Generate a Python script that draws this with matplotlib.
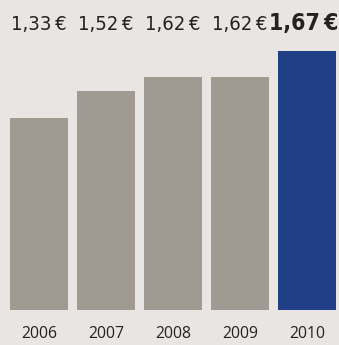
import matplotlib
matplotlib.use("Agg")
import matplotlib.pyplot as plt

# values printed above the bars (EUR)
years = ["2006", "2007", "2008", "2009", "2010"]
prices = [1.33, 1.52, 1.62, 1.62, 1.67]
labels = ["1,33\u2009€", "1,52\u2009€", "1,62\u2009€", "1,62\u2009€", "1,67\u2009€"]
# drawn bar heights (last bar is drawn taller)
heights = [1.33, 1.52, 1.62, 1.62, 1.80]
highlight = 4

BG = "#e8e5e3"
GREY = "#a09a93"
BLUE = "#213f87"
INK = "#222222"

plt.rcParams["font.family"] = ["Open Sans", "DejaVu Sans"]

fig = plt.figure(figsize=(3.39, 3.45), dpi=100, facecolor=BG)
ax = fig.add_axes([0, 35 / 345, 1, 310 / 345])
ax.set_facecolor(BG)

x = list(range(len(years)))
colors = [BLUE if i == highlight else GREY for i in x]
ax.bar(x, heights, width=58 / 67, color=colors, linewidth=0)

ax.set_xlim(-39 / 67, 4 + 32 / 67)
ax.set_ylim(0, 310 / 144)
ax.axis("off")

label_style = dict(va="baseline", color=INK, family="DejaVu Sans",
                   fontstretch="condensed")
for i in x:
    if i == highlight:
        # the big label sits flush with the right edge
        ax.text(0.998, 0.902, labels[i], transform=ax.transAxes, ha="right",
                fontsize=16.5, fontweight="bold", **label_style)
    else:
        ax.text(i, 0.902, labels[i], transform=ax.get_xaxis_transform(),
                ha="center", fontsize=14.5, **label_style)
    ax.text(i, -0.077, years[i], transform=ax.get_xaxis_transform(),
            ha="center", va="center", color=INK, fontsize=11.3)

fig.savefig("out.png", facecolor=BG)
